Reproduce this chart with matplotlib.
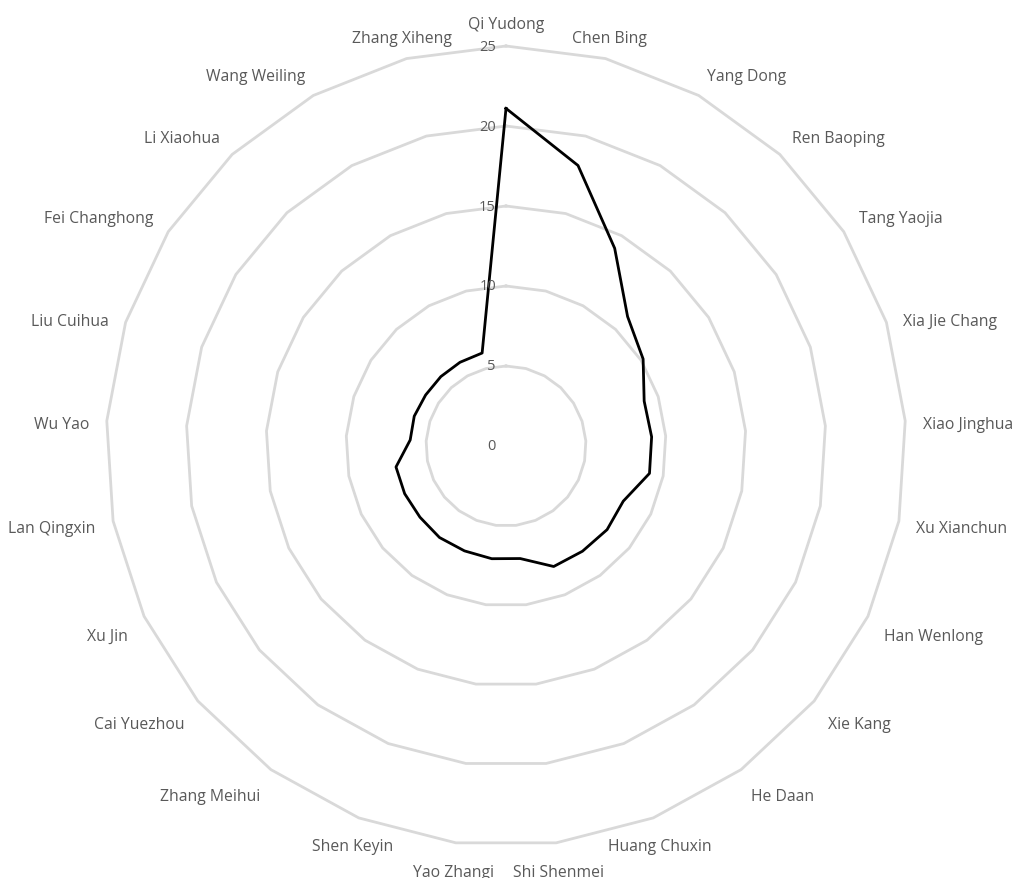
import numpy as np
import matplotlib
matplotlib.use("Agg")
import matplotlib.pyplot as plt
from matplotlib.transforms import ScaledTranslation

# data, clockwise from the top
names = ["Qi Yudong", "Chen Bing", "Yang Dong", "Ren Baoping", "Tang Yaojia",
         "Xia Jie Chang", "Xiao Jinghua", "Xu Xianchun", "Han Wenlong", "Xie Kang",
         "He Daan", "Huang Chuxin", "Shi Shenmei", "Yao Zhangi", "Shen Keyin",
         "Zhang Meihui", "Cai Yuezhou", "Xu Jin", "Lan Qingxin", "Wu Yao",
         "Liu Cuihua", "Fei Changhong", "Li Xiaohua", "Wang Weiling", "Zhang Xiheng"]
values = [21.1, 18.1, 14.1, 11.1, 10.15,
          9.08, 9.12, 9.13, 8.1, 8.2,
          8.13, 8.1, 7.09, 7.1, 7.05,
          7.07, 6.98, 7.0, 7.0, 6.0,
          6.03, 5.95, 5.95, 5.97, 6.0]
ticks = [0, 5, 10, 15, 20, 25]

grid_col = "#d9d9d9"
text_col = "#595959"

plt.rcParams['font.family'] = ['Open Sans', 'DejaVu Sans']

fig = plt.figure(figsize=(10.14, 8.79), dpi=100)
ax = fig.add_axes([106 / 1014, 32 / 879, 800 / 1014, 800 / 879], projection='polar')
ax.set_theta_zero_location('N')
ax.set_theta_direction(-1)
ax.set_ylim(0, 25)
ax.set_xticks([])
ax.set_yticks([])
ax.grid(False)
ax.spines['polar'].set_visible(False)

n = len(names)
ang = np.arange(n) * 2 * np.pi / n
ang_c = np.append(ang, ang[0])

# polygon gridlines
for r in ticks[1:]:
    ax.plot(ang_c, [r] * (n + 1), color=grid_col, lw=2, zorder=1, clip_on=False)

# series
vals_c = np.append(values, values[0])
ax.plot(ang_c, vals_c, color='black', lw=2, zorder=3, clip_on=False)

# value tick labels
off = ScaledTranslation(-10 / 100, 0, fig.dpi_scale_trans)
for t in ticks:
    ax.text(0, t, str(t), transform=ax.transData + off, ha='right', va='center',
            fontsize=10.5, color=text_col, zorder=4)

# category labels
lab_off = ScaledTranslation(0, -4 / 100, fig.dpi_scale_trans)
for a, name in zip(ang, names):
    s, c = np.sin(a), np.cos(a)
    ha = 'left' if s > 0.42 else ('right' if s < -0.42 else 'center')
    va = 'bottom' if c > 0.35 else ('top' if c < -0.35 else 'center')
    ax.text(a, 26.1, name, ha=ha, va=va, fontsize=11.3, color=text_col,
            transform=ax.transData + lab_off)

fig.savefig('out.png', dpi=100)
